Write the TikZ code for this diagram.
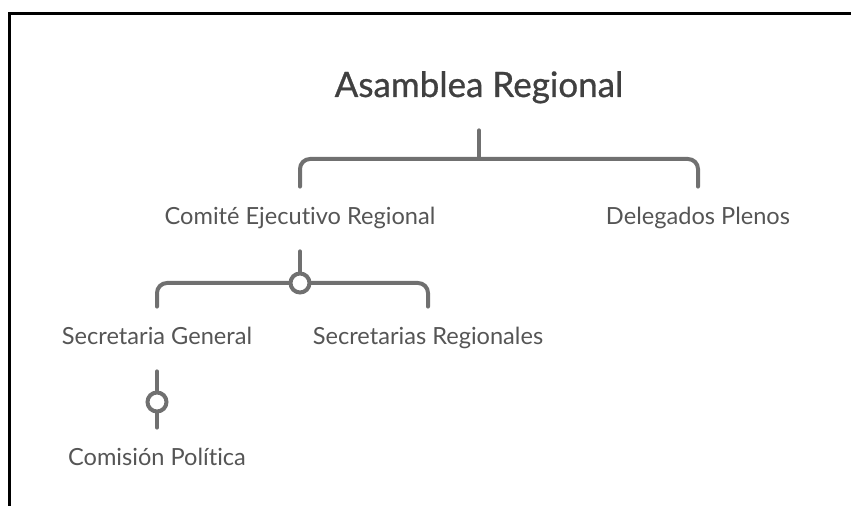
\documentclass[tikz,border=0pt]{standalone}
\usepackage{fontspec}
\setmainfont{Lato}[Ligatures=NoCommon]
\newfontfamily\titlefont[FakeBold=0.8,Ligatures=NoCommon]{Lato}
\definecolor{linegray}{RGB}{112,112,112}
\definecolor{textgray}{RGB}{85,85,85}
\definecolor{titlegray}{RGB}{64,64,64}
\tikzset{
  title/.style={font=\titlefont\fontsize{17.5}{20}\selectfont, text=titlegray, text height=13pt, text depth=3pt, inner xsep=0pt, inner ysep=13.5pt},
  item/.style={font=\fontsize{11.8}{14}\selectfont, text=textgray, text height=9pt, text depth=3pt, inner xsep=0pt, inner ysep=10pt},
  conn/.style={draw=linegray, line width=2pt, line cap=round},
  joint/.style={circle, draw=linegray, fill=white, line width=2pt, minimum size=9.5pt, inner sep=0pt}
}
\begin{document}
\begin{tikzpicture}[x=0.5pt,y=-0.5pt]
\useasboundingbox (0,0) rectangle (851,506);
\draw[line width=1.5pt] (9.5,506) -- (9.5,14) -- (851,14);
\node[title] (asamblea) at (479,87) {Asamblea Regional};
\node[item] (comite) at (300,219) {Comité Ejecutivo Regional};
\node[item] (delegados) at (698,219) {Delegados Plenos};
\node[item] (secgen) at (157,339) {Secretaria General};
\node[item] (secreg) at (428,339) {Secretarias Regionales};
\node[item] (comision) at (157,460) {Comisión Política};
\coordinate (j1) at (479,159);
\coordinate (j2) at (300,283);
\coordinate (j3) at (157,402);
\draw[conn] (asamblea.south) -- (j1);
\draw[conn, rounded corners=5pt] (comite.north) -- (comite.north |- j1) -- (delegados.north |- j1) -- (delegados.north);
\draw[conn] (comite.south) -- (j2);
\draw[conn, rounded corners=5pt] (secgen.north) -- (secgen.north |- j2) -- (secreg.north |- j2) -- (secreg.north);
\draw[conn] (secgen.south) -- (comision.north);
\node[joint] at (j2) {};
\node[joint] at (j3) {};
\end{tikzpicture}
\end{document}
